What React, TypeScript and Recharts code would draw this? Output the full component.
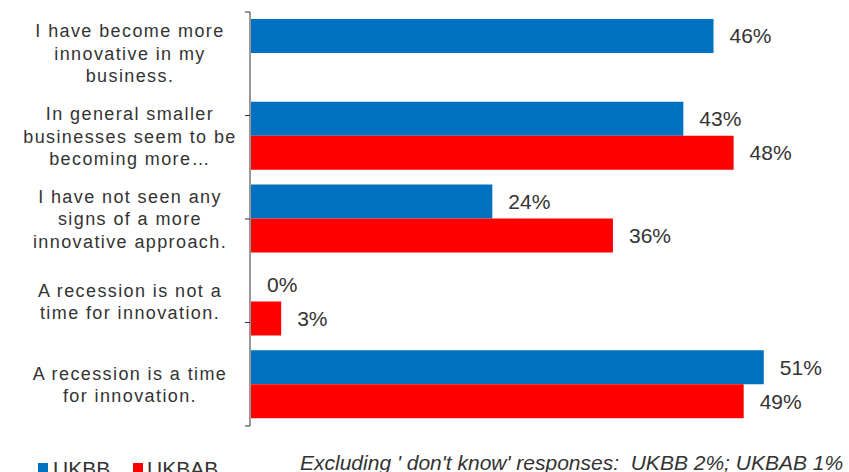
import React from 'react';
import { BarChart, Bar, XAxis, YAxis, LabelList } from 'recharts';

const categories = [
    'I have become more innovative in my business.',
    'In general smaller businesses seem to be becoming more…',
    'I have not seen any signs of a more innovative approach.',
    'A recession is not a time for innovation.',
    'A recession is a time for innovation.',
];

const categoryLines: string[][] = [
    ['I have become more', 'innovative in my', 'business.'],
    ['In general smaller', 'businesses seem to be', 'becoming more…'],
    ['I have not seen any', 'signs of a more', 'innovative approach.'],
    ['A recession is not a', 'time for innovation.'],
    ['A recession is a time', 'for innovation.'],
];

const ukbb = [46, 43, 24, 0, 51];
const ukbab: (number | null)[] = [null, 48, 36, 3, 49];
const edgeTicks = [0, 1, 2, 3, 4, 5];

const data = categories.map((name, i) => ({ name, UKBB: ukbb[i], UKBAB: ukbab[i] }));

const FONT = '"Liberation Sans", Arial, sans-serif';
const TEXT = '#333333';
const AXIS = '#333333';
const BLUE = '#0070C0';
const RED = '#FF0000';

const CategoryTick = (props: any) => {
    const { x, y, payload } = props;
    const idx = categories.indexOf(payload.value);
    const lines = categoryLines[idx] || [payload.value];
    const lineH = 22.5;
    const cx = x - 121;
    const startY = y - ((lines.length - 1) * lineH) / 2;
    return (
        <text x={cx} y={startY} textAnchor="middle" fill={TEXT} fontSize={18} fontFamily={FONT} style={{ letterSpacing: '1.4px' }}>
            {lines.map((l, i) => (
                <tspan key={i} x={cx} y={startY + i * lineH} dy="0.35em">{l}</tspan>
            ))}
        </text>
    );
};

const NoTick = () => <g />;

const pct = (v: any) => (v === null || v === undefined ? '' : `${v}%`);

// zero values still need a (invisible) rect so the label gets drawn
const zeroSize = (v: any) => (v === 0 ? 0.01 : 0);

const App: React.FC = () => {
    return (
        <div style={{ position: 'fixed', left: 0, top: 0, width: 849, height: 472, background: '#fff', overflow: 'hidden', fontFamily: FONT }}>
            <BarChart
                width={849}
                height={472}
                data={data}
                layout="vertical"
                margin={{ top: 12, right: 45, bottom: 46, left: 0 }}
                barSize={34}
                barGap={0}
            >
                <XAxis type="number" domain={[0, 55]} hide />
                {/* category labels: sits next to the plot, labels drawn out to the left */}
                <YAxis
                    type="category"
                    dataKey="name"
                    width={1}
                    axisLine={false}
                    tickLine={false}
                    tickSize={0}
                    tickMargin={0}
                    interval={0}
                    tick={<CategoryTick />}
                />
                {/* axis line with tick marks between the categories */}
                <YAxis
                    yAxisId="edges"
                    type="number"
                    domain={[0, 5]}
                    ticks={edgeTicks}
                    tick={<NoTick />}
                    tickSize={5}
                    width={250}
                    axisLine={{ stroke: AXIS }}
                    tickLine={{ stroke: AXIS }}
                />
                <Bar dataKey="UKBB" fill={BLUE} minPointSize={zeroSize} isAnimationActive={false}>
                    <LabelList dataKey="UKBB" position="right" offset={16} formatter={pct} fill={TEXT} fontSize={21} fontFamily={FONT} />
                </Bar>
                <Bar dataKey="UKBAB" fill={RED} isAnimationActive={false}>
                    <LabelList dataKey="UKBAB" position="right" offset={16} formatter={pct} fill={TEXT} fontSize={21} fontFamily={FONT} />
                </Bar>
            </BarChart>

            {/* legend, cut off by the bottom edge like the original slide */}
            <div style={{ position: 'absolute', left: 38, top: 463, width: 10, height: 10, background: BLUE }} />
            <div style={{ position: 'absolute', left: 53, top: 458, fontSize: 21, lineHeight: '21px', color: TEXT }}>UKBB</div>
            <div style={{ position: 'absolute', left: 133, top: 463, width: 10, height: 10, background: RED }} />
            <div style={{ position: 'absolute', left: 147, top: 458, fontSize: 21, lineHeight: '21px', color: TEXT }}>UKBAB</div>
            <div style={{ position: 'absolute', left: 300, top: 452, fontSize: 21, lineHeight: '21px', fontStyle: 'italic', color: TEXT, whiteSpace: 'pre' }}>
                {"Excluding ' don't know' responses:  UKBB 2%; UKBAB 1%"}
            </div>
        </div>
    );
};

export default App;
